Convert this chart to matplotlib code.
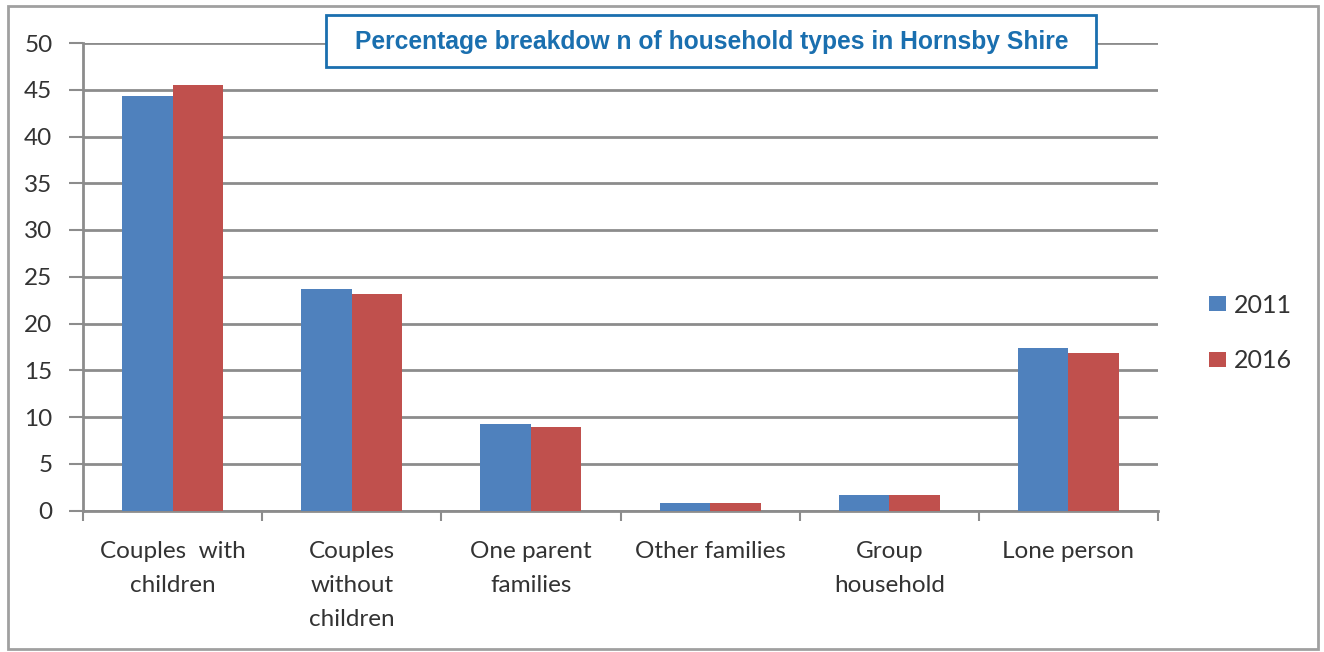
import numpy as np
import matplotlib.pyplot as plt
from matplotlib.patches import Rectangle

categories = ["Couples  with\nchildren", "Couples\nwithout\nchildren", "One parent\nfamilies",
              "Other families", "Group\nhousehold", "Lone person"]
values_2011 = [44.3, 23.7, 9.3, 0.8, 1.7, 17.4]
values_2016 = [45.5, 23.2, 8.9, 0.8, 1.7, 16.8]
years = ["2011", "2016"]
yticks = [0, 5, 10, 15, 20, 25, 30, 35, 40, 45, 50]

BLUE = "#4F81BD"
RED = "#C0504D"
GRID = "#8c8c8c"
TEXT = "#333333"
TITLE_BLUE = "#1a6faf"

plt.rcParams["font.family"] = ["Lato", "DejaVu Sans"]

fig = plt.figure(figsize=(13.24, 6.52), dpi=100)
W, H = 1324, 652
fig.patches.append(Rectangle((8 / W, 3 / H), 1310 / W, 643 / H, transform=fig.transFigure,
                             fill=False, edgecolor="#a0a0a0", linewidth=2))

ax = fig.add_axes([83 / W, 1 - 510.5 / H, 1075 / W, 467.5 / H])

x = np.arange(len(categories))
w = 0.282
ax.bar(x - w / 2, values_2011, w, color=BLUE, label=years[0], zorder=3)
ax.bar(x + w / 2, values_2016, w, color=RED, label=years[1], zorder=3)

ax.set_xlim(-0.5, len(categories) - 0.5)
ax.set_ylim(0, 50)
ax.set_yticks(yticks)
ax.yaxis.grid(True, color=GRID, linewidth=2)
ax.set_axisbelow(True)

# category boundaries get the tick marks, labels sit on minor ticks at bar centres
ax.set_xticks(np.arange(len(categories) + 1) - 0.5)
ax.set_xticklabels([])
ax.set_xticks(x, minor=True)
ax.set_xticklabels(categories, minor=True, fontsize=17.5, color=TEXT, linespacing=1.75, va="top")
ax.tick_params(axis="x", which="minor", length=0, pad=22)
ax.tick_params(axis="x", which="major", length=7, width=1.5, color=GRID)
ax.tick_params(axis="y", length=10, width=1.5, color=GRID, labelsize=17.5, labelcolor=TEXT, pad=12)

for side in ["top", "right"]:
    ax.spines[side].set_visible(False)
for side in ["left", "bottom"]:
    ax.spines[side].set_color(GRID)
    ax.spines[side].set_linewidth(2)

leg = fig.legend(loc="center left", bbox_to_anchor=(1186 / W, 1 - 333 / H), frameon=False,
                 fontsize=18, handlelength=0.7, handleheight=0.55, handletextpad=0.3,
                 labelspacing=1.3)
for t in leg.get_texts():
    t.set_color(TEXT)

fig.patches.append(Rectangle((326 / W, 1 - 67 / H), 770 / W, 52 / H, transform=fig.transFigure,
                             facecolor="white", edgecolor=TITLE_BLUE, linewidth=2, zorder=5))
fig.text(712 / W, 1 - 42 / H, "Percentage breakdow n of household types in Hornsby Shire",
         ha="center", va="center", fontsize=17.7, fontweight="bold", color=TITLE_BLUE,
         family="Liberation Sans", zorder=6)

fig.savefig("out.png", dpi=100)
